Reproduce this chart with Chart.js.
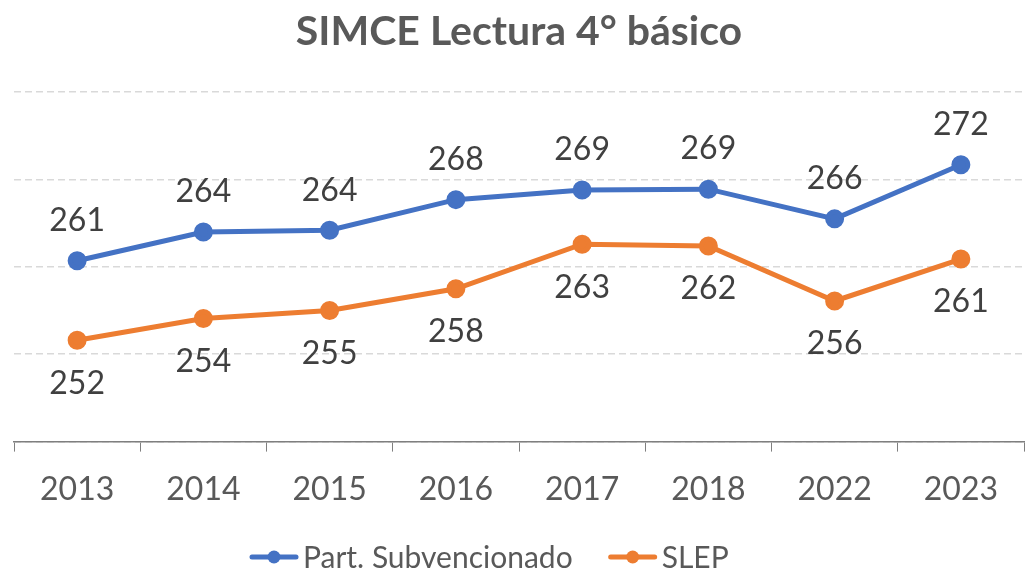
<!DOCTYPE html>
<html>
<head>
<meta charset="utf-8">
<script src="https://cdn.jsdelivr.net/npm/chart.js@4.4.0/dist/chart.umd.min.js"></script>
<style>
  html, body { margin: 0; padding: 0; background: #fff; }
  #wrap { width: 1025px; height: 573px; }
</style>
</head>
<body>
<div id="wrap"><canvas id="chart" width="1025" height="573"></canvas></div>
<script>
// Chart data
const years = ['2013', '2014', '2015', '2016', '2017', '2018', '2022', '2023'];
const subvencionado = [260.7, 264.0, 264.2, 267.7, 268.8, 268.9, 265.5, 271.7];
const slep = [251.6, 254.1, 255.0, 257.5, 262.6, 262.4, 256.1, 260.9];
const yTicks = [240, 250, 260, 270, 280];

const BLUE = '#4472C4';
const ORANGE = '#ED7D31';
const FONT = 'Lato, "Open Sans", sans-serif';

// value labels, above for the first series, below for the second
const valueLabels = {
  id: 'valueLabels',
  afterDatasetsDraw(chart) {
    const ctx = chart.ctx;
    ctx.save();
    ctx.font = '32px ' + FONT;
    ctx.fillStyle = '#404040';
    ctx.textAlign = 'center';
    ctx.textBaseline = 'middle';
    chart.data.datasets.forEach((ds, i) => {
      const meta = chart.getDatasetMeta(i);
      meta.data.forEach((pt, j) => {
        const dy = i === 0 ? -40 : 43;
        ctx.fillText(Math.round(ds.data[j]), pt.x, pt.y + dy);
      });
    });
    ctx.restore();
  }
};

// legend at the bottom: line + dot marker, then the series name
const lineLegend = {
  id: 'lineLegend',
  afterDraw(chart) {
    const ctx = chart.ctx;
    const y = chart.height - 16;
    ctx.save();
    ctx.font = '30px ' + FONT;
    ctx.textBaseline = 'middle';
    const markerW = 48, textGap = 5, itemGap = 36;
    let x = 250;
    chart.data.datasets.forEach(ds => {
      const color = ds.borderColor;
      ctx.strokeStyle = color;
      ctx.lineWidth = 5;
      ctx.lineCap = 'round';
      ctx.beginPath();
      ctx.moveTo(x + 2, y);
      ctx.lineTo(x + markerW - 2, y);
      ctx.stroke();
      ctx.fillStyle = color;
      ctx.beginPath();
      ctx.arc(x + markerW / 2, y, 6.5, 0, Math.PI * 2);
      ctx.fill();
      ctx.fillStyle = '#595959';
      ctx.textAlign = 'left';
      ctx.fillText(ds.label, x + markerW + textGap, y + 1);
      x += markerW + textGap + ctx.measureText(ds.label).width + itemGap;
    });
    ctx.restore();
  }
};

new Chart(document.getElementById('chart'), {
  type: 'line',
  data: {
    labels: years,
    datasets: [
      {
        label: 'Part. Subvencionado',
        data: subvencionado,
        borderColor: BLUE,
        backgroundColor: BLUE,
        borderWidth: 5,
        pointRadius: 7,
        pointHoverRadius: 7,
        tension: 0
      },
      {
        label: 'SLEP',
        data: slep,
        borderColor: ORANGE,
        backgroundColor: ORANGE,
        borderWidth: 5,
        pointRadius: 7,
        pointHoverRadius: 7,
        tension: 0
      }
    ]
  },
  options: {
    responsive: false,
    animation: false,
    devicePixelRatio: 1,
    layout: { autoPadding: false, padding: { left: 14, right: 1, top: 5, bottom: 45 } },
    plugins: {
      title: {
        display: true,
        text: 'SIMCE Lectura 4° básico',
        color: '#595959',
        font: { family: FONT, size: 41, weight: 'bold' },
        padding: { top: 2, bottom: 36 }
      },
      legend: { display: false },
      tooltip: { enabled: false }
    },
    scales: {
      x: {
        offset: true,
        afterFit(axis) {
          axis.paddingLeft = 0;
          axis.paddingRight = 0;
        },
        grid: {
          display: true,
          offset: true,
          drawOnChartArea: false,
          drawTicks: true,
          tickLength: 10,
          color: '#7f7f7f',
          lineWidth: 1
        },
        border: { display: true, color: '#7f7f7f', width: 1.5 },
        ticks: {
          color: '#595959',
          font: { family: FONT, size: 32 },
          padding: 19
        }
      },
      y: {
        display: true,
        min: 240,
        max: 280,
        afterBuildTicks(axis) {
          axis.ticks = yTicks.map(v => ({ value: v }));
        },
        afterFit(axis) {
          axis.width = 0;
        },
        ticks: { display: false },
        border: { display: false, dash: [7, 4] },
        grid: {
          color: '#d9d9d9',
          lineWidth: 1.5,
          drawTicks: false
        }
      }
    }
  },
  plugins: [valueLabels, lineLegend]
});
</script>
</body>
</html>
